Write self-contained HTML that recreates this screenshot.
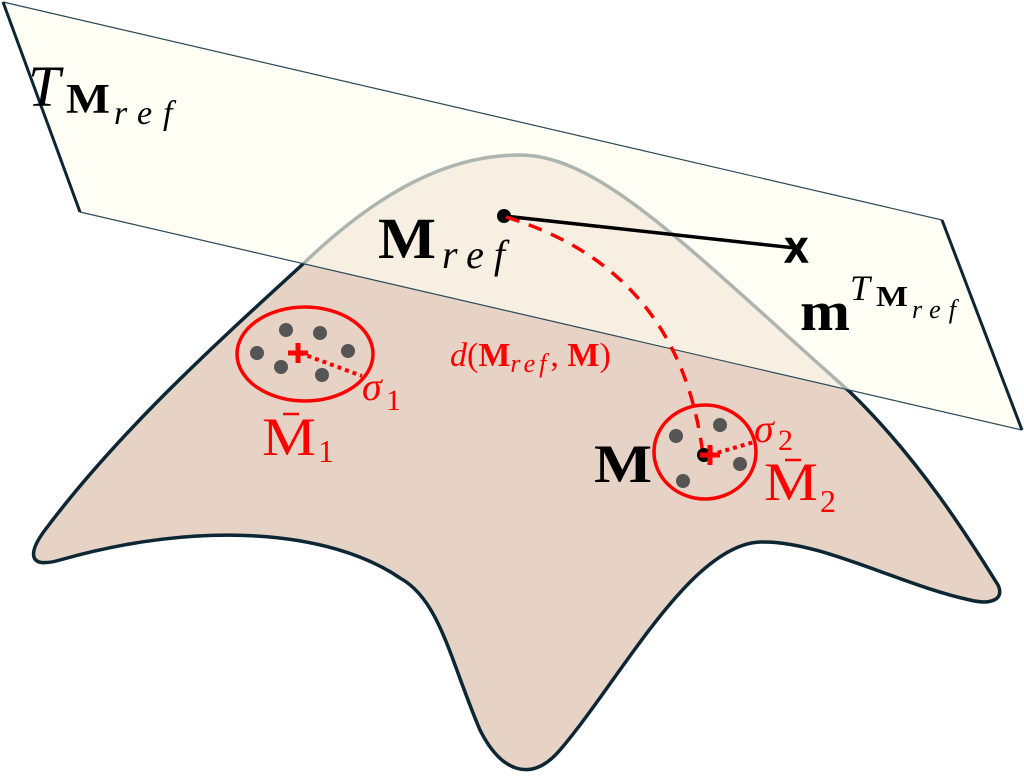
<!DOCTYPE html>
<html><head><meta charset="utf-8"><style>
html,body{margin:0;padding:0;background:#fff;}
svg{display:block;}
text{font-family:"Liberation Serif",serif;}
</style></head><body>
<svg width="1024" height="777" viewBox="0 0 1024 777" xmlns="http://www.w3.org/2000/svg">
<path d="M303,264 C380,190 450,155 520,155 C600,155 690,250 850,392 C920,460 970,540 998,585 C1005,600 990,605 970,600 C900,585 820,540 760,542 C690,545 620,680 560,750 C530,785 500,770 480,730 C450,660 440,600 400,578 C330,530 200,520 60,560 C25,570 30,550 45,530 C120,430 220,340 303,264 Z" fill="#e6d3c6" stroke="#0d2633" stroke-width="3.5"/>
<polygon points="3,2 942,220 1022,430 80,212" fill="#fffff0" fill-opacity="0.66"/>
<line x1="3" y1="2" x2="942" y2="220" stroke="#2a4a5a" stroke-width="1.2"/>
<line x1="80" y1="212" x2="1022" y2="430" stroke="#2a4a5a" stroke-width="1.2"/>
<line x1="3" y1="2" x2="80" y2="212" stroke="#0d2633" stroke-width="3"/>
<line x1="942" y1="220" x2="1022" y2="430" stroke="#0d2633" stroke-width="3"/>

<text x="28" y="106" font-size="58" font-style="italic">T</text>
<text x="66" y="113" font-size="42" font-weight="bold" textLength="44" lengthAdjust="spacingAndGlyphs">M</text>
<text x="114" y="124" font-size="34" font-style="italic" letter-spacing="11">ref</text>

<line x1="504" y1="216" x2="795" y2="248" stroke="#000" stroke-width="3.5"/>
<circle cx="504" cy="216" r="7" fill="#000"/>
<text x="785" y="262" style="font-family:'Liberation Sans',sans-serif" font-size="34" font-weight="bold" stroke="#000" stroke-width="1.5">X</text>
<text x="378" y="258" font-size="58" font-weight="bold" textLength="58" lengthAdjust="spacingAndGlyphs">M</text>
<text x="442" y="268" font-size="40" font-style="italic" letter-spacing="10">ref</text>
<text x="800" y="330" font-size="56" font-weight="bold" textLength="50" lengthAdjust="spacingAndGlyphs">m</text>
<text x="850" y="300" font-size="36" font-style="italic">T</text>
<text x="876" y="306" font-size="28" font-weight="bold" textLength="32" lengthAdjust="spacingAndGlyphs">M</text>
<text x="912" y="318" font-size="26" font-style="italic" letter-spacing="8">ref</text>

<path d="M506,217 Q680,270 703,455" fill="none" stroke="#ff0000" stroke-width="3.5" stroke-dasharray="14,10"/>
<text x="450" y="366" font-size="34" fill="#ff0000"><tspan font-style="italic">d</tspan>(<tspan font-weight="bold">M</tspan><tspan font-style="italic" font-size="26" dy="6" letter-spacing="4">ref</tspan><tspan dy="-6">, </tspan><tspan font-weight="bold">M</tspan>)</text>

<ellipse cx="305" cy="354" rx="68" ry="47" fill="none" stroke="#ff0000" stroke-width="3.5"/>
<g fill="#555">
<circle cx="257" cy="353" r="7"/><circle cx="286" cy="330" r="7"/><circle cx="320" cy="333" r="7"/>
<circle cx="348" cy="351" r="7"/><circle cx="281" cy="367" r="7"/><circle cx="322" cy="375" r="7"/>
</g>
<line x1="300" y1="353" x2="362" y2="376" stroke="#ff0000" stroke-width="4" stroke-dasharray="4,4"/>
<path d="M288,353 H308 M298,343 V363" stroke="#ff0000" stroke-width="5"/>
<text x="362" y="400" font-size="40" font-style="italic" fill="#ff0000">σ</text>
<text x="386" y="410" font-size="30" fill="#ff0000">1</text>
<text x="262" y="455" font-size="54" fill="#ff0000" textLength="54" lengthAdjust="spacingAndGlyphs">M</text>
<line x1="283" y1="414" x2="299" y2="414" stroke="#ff0000" stroke-width="2.5"/>
<text x="318" y="462" font-size="32" fill="#ff0000">1</text>

<ellipse cx="705" cy="452" rx="51" ry="47" fill="none" stroke="#ff0000" stroke-width="3.5"/>
<g fill="#555">
<circle cx="676" cy="436" r="7"/><circle cx="720" cy="425" r="7"/><circle cx="740" cy="464" r="7"/><circle cx="683" cy="481" r="7"/>
</g>
<circle cx="704" cy="455" r="7" fill="#000"/>
<line x1="710" y1="455" x2="754" y2="442" stroke="#ff0000" stroke-width="4" stroke-dasharray="4,4"/>
<path d="M700,455 H720 M710,445 V465" stroke="#ff0000" stroke-width="5"/>
<text x="754" y="442" font-size="40" font-style="italic" fill="#ff0000">σ</text>
<text x="778" y="450" font-size="30" fill="#ff0000">2</text>
<text x="764" y="500" font-size="54" fill="#ff0000" textLength="54" lengthAdjust="spacingAndGlyphs">M</text>
<line x1="785" y1="460" x2="801" y2="460" stroke="#ff0000" stroke-width="2.5"/>
<text x="820" y="512" font-size="32" fill="#ff0000">2</text>
<text x="594" y="482" font-size="54" font-weight="bold" textLength="58" lengthAdjust="spacingAndGlyphs">M</text>
</svg>
</body></html>
